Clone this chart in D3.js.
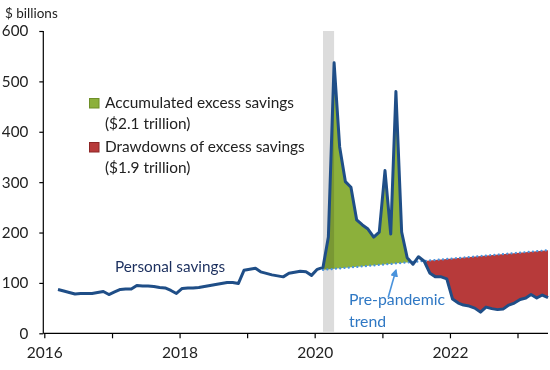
<!DOCTYPE html>
<html><head><meta charset="utf-8">
<script src="https://cdn.jsdelivr.net/npm/d3@7"></script>
<style>
html,body{margin:0;padding:0;background:#fff;}
svg{display:block;font-family:Lato,"Open Sans",sans-serif;}
</style></head>
<body><svg id="chart" width="550" height="370"></svg>
<script>
// ---- data ----
const savingsStart = "2016-03";            // first month of monthly series
const savingsValues = [                     // personal savings, $ billions (monthly)
  87,84,81,78,79,79,79,81,83,77,
  82,87,88,88,95,94,94,93,91,90,85,79,
  89,90,90,91,93,95,97,99,101,101,99,125,
  127,129,122,119,116,114,112,119,121,123,122,115,
  127,131,191,537,370,301,290,225,215,207,191,201,
  323,197,480,201,150,137,152,143,119,112,112,108,
  68,60,56,54,50,42,52,49,47,48,56,60,
  67,70,77,70,76,71
];
const trendDates = ["2020-02","2023-06"];   // pre-pandemic trend endpoints
const trendValues = [126,165];
const greenPeriod = ["2020-02","2021-06"];
const redPeriod = ["2021-07","2023-06"];
const recession = ["2020-02","2020-04"];
const yTicks = [0,100,200,300,400,500,600];
const xTickYears = [2016,2017,2018,2019,2020,2021,2022,2023];
const xLabelYears = [2016,2018,2020,2022];
const legendItems = [
  {lines:["Accumulated excess savings","($2.1 trillion)"], color:"#8cb03b", border:"#6e8f28"},
  {lines:["Drawdowns of excess savings","($1.9 trillion)"], color:"#b73a3a", border:"#8c2626"}
];

// ---- helpers ----
const parseM = s => { const [y,m] = s.split("-").map(Number); return new Date(y, m-1, 15); };
const start = parseM(savingsStart);
const series = savingsValues.map((v,i) => ({date: d3.timeMonth.offset(start, i), value: v}));
const trend = trendDates.map((d,i) => ({date: parseM(d), value: trendValues[i]}));

const svg = d3.select("#chart");
const x = d3.scaleTime().domain([new Date(2016,0,1), new Date(2023,0,1)]).range([44.3, 517.5]);
const y = d3.scaleLinear().domain([0,600]).range([333.3, 31]);

const defs = svg.append("defs");
const t0 = trend[0], t1 = trend[1];
defs.append("clipPath").attr("id","aboveTrend").append("path")
  .attr("d", `M${x(t0.date)},${y(t0.value)}L${x(t1.date)},${y(t1.value)}L${x(t1.date)+2},${y(600)}L${x(t0.date)},${y(600)}Z`);
defs.append("clipPath").attr("id","belowTrend").append("path")
  .attr("d", `M${x(t0.date)},${y(t0.value)}L${x(t1.date)},${y(t1.value)}L${x(t1.date)},${y(0)}L${x(t0.date)},${y(0)}Z`);

const inRange = (d, r) => d.date >= parseM(r[0]) && d.date <= parseM(r[1]);

// green: accumulated excess
svg.append("path")
  .datum(series.filter(d => inRange(d, greenPeriod)))
  .attr("clip-path","url(#aboveTrend)")
  .attr("fill","#8cb03b")
  .attr("d", d3.area().x(d=>x(d.date)).y0(y(0)).y1(d=>y(d.value)));

// red: drawdowns
svg.append("path")
  .datum(series.filter(d => inRange(d, redPeriod)))
  .attr("clip-path","url(#belowTrend)")
  .attr("fill","#b73a3a")
  .attr("d", d3.area().x(d=>x(d.date)).y0(y(600)).y1(d=>y(d.value)));

// recession bar
svg.append("rect")
  .attr("x", x(parseM(recession[0])))
  .attr("width", x(parseM(recession[1])) - x(parseM(recession[0])))
  .attr("y", y(600)).attr("height", y(0) - y(600) - 1.5)
  .attr("fill","#dcdcdc").style("mix-blend-mode","multiply");

// trend dotted
svg.append("path").datum(trend)
  .attr("fill","none").attr("stroke","#4a93dc").attr("stroke-width",2.2)
  .attr("stroke-dasharray","0.1,4.2").attr("stroke-linecap","round")
  .attr("d", d3.line().x(d=>x(d.date)).y(d=>y(d.value)));

// savings line
svg.append("path").datum(series)
  .attr("fill","none").attr("stroke","#1f4e87").attr("stroke-width",3)
  .attr("stroke-linejoin","round")
  .attr("d", d3.line().x(d=>x(d.date)).y(d=>y(d.value)));

// axes
const yAxis = svg.append("g").attr("transform","translate(43.3,0)")
  .call(d3.axisLeft(y).tickValues(yTicks).tickSize(4).tickPadding(11));
yAxis.select(".domain").attr("d", `M-0,${y(0)}V${y(600)}`);
yAxis.selectAll("text").attr("font-size",15.2).attr("fill","#222").attr("font-family","Lato,sans-serif");

const xAxis = svg.append("g").attr("transform",`translate(0,${y(0)})`)
  .call(d3.axisBottom(x).tickValues(xTickYears.map(yr=>new Date(yr,0,1))).tickSize(5).tickPadding(9)
    .tickFormat(d => xLabelYears.includes(d.getFullYear()) ? d.getFullYear() : ""));
xAxis.select(".domain").attr("d", `M${43.3},0H548`);
xAxis.selectAll("text").attr("font-size",15.5).attr("fill","#222").attr("font-family","Lato,sans-serif");
svg.selectAll(".domain, .tick line").attr("stroke","#000").attr("stroke-width",1.2);

// unit label
svg.append("text").attr("x",5).attr("y",18).attr("font-size",13.5).attr("fill","#222").text("$ billions");

// legend
legendItems.forEach((it,i) => {
  const by = 107.5 + i*44;
  svg.append("rect").attr("x",89.5).attr("y",by-9).attr("width",9.5).attr("height",9.5)
    .attr("fill",it.color).attr("stroke",it.border).attr("stroke-width",1);
  it.lines.forEach((ln,j) => {
    svg.append("text").attr("x",105).attr("y",by + j*21.5).attr("font-size",15.4).attr("fill","#222").text(ln);
  });
});

// annotations
svg.append("text").attr("x",115).attr("y",272).attr("font-size",15.3).attr("fill","#1b2f5e").text("Personal savings");
const ann = svg.append("g").attr("fill","#2f78c4").attr("font-size",15.8);
ann.append("text").attr("x",349).attr("y",305).text("Pre-pandemic");
ann.append("text").attr("x",349).attr("y",327).text("trend");

// arrow
const ax0 = x(new Date(2021,1,1)), ay0 = y(71);
const ax1 = x(new Date(2021,2,15)), ay1 = y(125);
svg.append("defs").append("marker").attr("id","ah").attr("viewBox","0 0 10 10")
  .attr("refX",8).attr("refY",5).attr("markerWidth",5).attr("markerHeight",5).attr("orient","auto")
  .append("path").attr("d","M0,0L10,5L0,10Z").attr("fill","#4a93dc");
svg.append("line").attr("x1",ax0).attr("y1",ay0).attr("x2",ax1).attr("y2",ay1)
  .attr("stroke","#4a93dc").attr("stroke-width",1.6).attr("marker-end","url(#ah)");
</script></body></html>
